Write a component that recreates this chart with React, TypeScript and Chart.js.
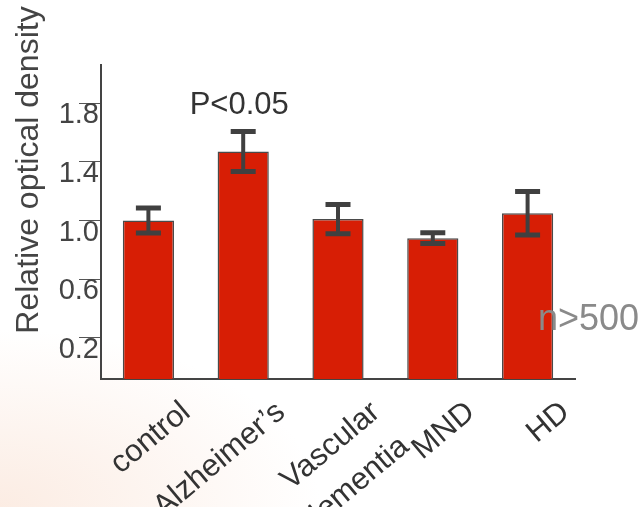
import React, { useEffect, useRef } from 'react';
import { Chart, registerables } from 'chart.js';

Chart.register(...registerables);

const categories: (string | string[])[] = ['control', 'Alzheimer’s', ['Vascular', 'dementia'], 'MND', 'HD'];
const values = [1.0, 1.47, 1.01, 0.88, 1.05];
const errors = [0.085, 0.136, 0.1, 0.036, 0.148];
const yTicks = [0.2, 0.6, 1.0, 1.4, 1.8];
const Y_MIN = -0.08;
const Y_MAX = 2.06;
const yTitle = 'Relative optical density';
const significance = 'P<0.05';
const sampleNote = 'n>500';

const FONT = "'Liberation Sans', Arial, Helvetica, sans-serif";

const overlay = {
  id: 'overlay',
  afterDatasetsDraw(chart: any) {
    const ctx = chart.ctx as CanvasRenderingContext2D;
    const meta = chart.getDatasetMeta(0);
    const y = chart.scales.y;
    const area = chart.chartArea;
    ctx.save();
    ctx.strokeStyle = '#404040';
    ctx.lineCap = 'butt';
    meta.data.forEach((bar: any, i: number) => {
      const hi = y.getPixelForValue(values[i] + errors[i]);
      const lo = y.getPixelForValue(values[i] - errors[i]);
      ctx.lineWidth = 4;
      ctx.beginPath();
      ctx.moveTo(bar.x, hi);
      ctx.lineTo(bar.x, lo);
      ctx.stroke();
      ctx.lineWidth = 5;
      ctx.beginPath();
      ctx.moveTo(bar.x - 12.5, hi);
      ctx.lineTo(bar.x + 12.5, hi);
      ctx.moveTo(bar.x - 12.5, lo);
      ctx.lineTo(bar.x + 12.5, lo);
      ctx.stroke();
    });
    // significance label
    const alz = meta.data[1];
    const alzTop = y.getPixelForValue(values[1] + errors[1]);
    ctx.font = `31px ${FONT}`;
    ctx.fillStyle = '#333333';
    ctx.textAlign = 'center';
    ctx.textBaseline = 'middle';
    ctx.fillText(significance, alz.x - 4, alzTop - 26);
    // sample note
    ctx.font = `36px ${FONT}`;
    ctx.fillStyle = '#8a8a8a';
    ctx.textAlign = 'left';
    ctx.fillText(sampleNote, area.right - 37, y.getPixelForValue(0.32));
    // y title
    ctx.translate(38, 170);
    ctx.rotate(-Math.PI / 2);
    ctx.font = `32px ${FONT}`;
    ctx.fillStyle = '#444444';
    ctx.textAlign = 'center';
    ctx.textBaseline = 'alphabetic';
    ctx.fillText(yTitle, 0, 0);
    ctx.restore();
  },
};

export default function App() {
  const ref = useRef<HTMLCanvasElement | null>(null);

  useEffect(() => {
    if (!ref.current) return;
    const chart = new Chart(ref.current, {
      type: 'bar',
      data: {
        labels: categories as any,
        datasets: [
          {
            data: values,
            base: Y_MIN,
            backgroundColor: '#D71E05',
            borderColor: '#4a4a4a',
            borderWidth: 1.5,
            barPercentage: 0.54,
            categoryPercentage: 1.0,
          } as any,
        ],
      },
      options: {
        animation: false,
        responsive: true,
        maintainAspectRatio: false,
        layout: { padding: { top: 65, right: 67, left: 0, bottom: 0 } },
        plugins: {
          legend: { display: false },
          tooltip: { enabled: false },
        },
        scales: {
          x: {
            grid: { display: false, drawTicks: false },
            border: { display: true, color: '#444444', width: 2 },
            ticks: {
              autoSkip: false,
              maxRotation: 40,
              minRotation: 40,
              font: { size: 31, family: FONT, lineHeight: 1.45 },
              color: '#333333',
              padding: 12,
              labelOffset: 38,
            },
            afterFit: (s: any) => {
              s.height = 128;
            },
          },
          y: {
            min: Y_MIN,
            max: Y_MAX,
            afterBuildTicks: (s: any) => {
              s.ticks = yTicks.map((v) => ({ value: v }));
            },
            grid: {
              drawOnChartArea: false,
              drawTicks: true,
              tickLength: 22,
              tickColor: '#555555',
              tickWidth: 1,
            },
            border: { display: true, color: '#444444', width: 2 },
            ticks: {
              font: { size: 29, family: FONT },
              color: '#444444',
              padding: -20,
              labelOffset: 12,
              callback: (v: any) => Number(v).toFixed(1),
            },
            afterFit: (s: any) => {
              s.width = 101;
            },
          },
        },
      },
      plugins: [overlay],
    });
    return () => chart.destroy();
  }, []);

  return (
    <div
      style={{
        position: 'absolute',
        left: 0,
        top: 0,
        width: 642,
        height: 507,
        background:
          'radial-gradient(ellipse 50% 35% at 0% 100%, rgba(250,228,215,0.7), rgba(255,255,255,0) 100%), #ffffff',
      }}
    >
      <canvas ref={ref} />
    </div>
  );
}
